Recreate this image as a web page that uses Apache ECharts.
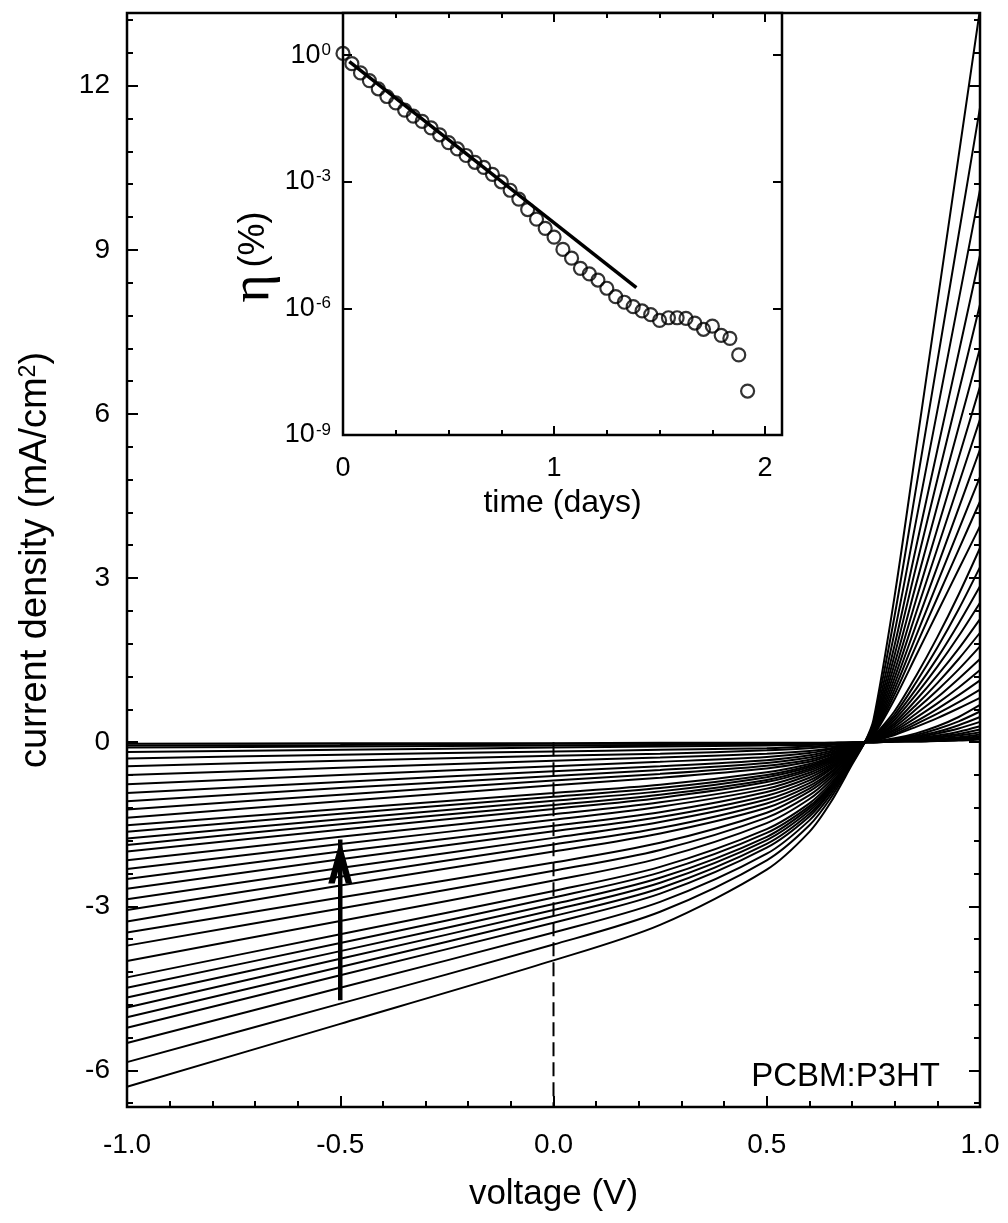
<!DOCTYPE html>
<html><head><meta charset="utf-8">
<script src="https://cdn.jsdelivr.net/npm/echarts@6/dist/echarts.min.js"></script>
<style>html,body{margin:0;padding:0;background:#fff}#c{width:1008px;height:1223px}</style>
</head><body><div id="c"></div>
<script>
// ---- Main plot: J-V curves (voltage in V, current density in mA/cm2) ----
const voltage = [-1, -0.5, 0, 0.25, 0.5, 0.6, 0.65, 0.7, 0.73, 0.75, 0.8, 0.85, 0.9, 0.95, 1.0];
const jvCurves = [
  [-6.30,-5.15,-3.99,-3.34,-2.33,-1.64,-1.10,-0.41,0, 0.40,2.68,5.36,8.04,10.72,13.40],
  [-5.85,-4.78,-3.70,-3.10,-2.16,-1.52,-1.02,-0.38,0, 0.35,2.32,4.64,6.96,9.28,11.60],
  [-5.50,-4.49,-3.48,-2.92,-2.04,-1.43,-0.96,-0.36,0, 0.30,2.02,4.04,6.06,8.08,10.10],
  [-5.22,-4.26,-3.30,-2.77,-1.93,-1.36,-0.91,-0.34,0, 0.27,1.78,3.56,5.34,7.12,8.90],
  [-5.03,-4.11,-3.18,-2.67,-1.86,-1.31,-0.88,-0.33,0, 0.24,1.60,3.20,4.80,6.40,8.00],
  [-4.85,-3.96,-3.07,-2.57,-1.79,-1.26,-0.85,-0.32,0, 0.22,1.44,2.88,4.32,5.76,7.20],
  [-4.67,-3.82,-2.96,-2.48,-1.73,-1.21,-0.82,-0.30,0, 0.20,1.30,2.60,3.90,5.20,6.50],
  [-4.49,-3.67,-2.84,-2.38,-1.66,-1.17,-0.79,-0.29,0, 0.18,1.18,2.36,3.54,4.72,5.90],
  [-4.30,-3.51,-2.72,-2.28,-1.59,-1.12,-0.75,-0.28,0, 0.16,1.07,2.14,3.21,4.28,5.35],
  [-4.00,-3.27,-2.53,-2.12,-1.48,-1.04,-0.70,-0.26,0, 0.15,0.97,1.94,2.91,3.88,4.85],
  [-3.72,-3.04,-2.35,-1.97,-1.38,-0.97,-0.65,-0.24,0, 0.13,0.88,1.76,2.64,3.52,4.40],
  [-3.48,-2.84,-2.20,-1.84,-1.29,-0.90,-0.61,-0.23,0, 0.12,0.79,1.58,2.37,3.16,3.95],
  [-3.28,-2.62,-2.00,-1.67,-1.20,-0.85,-0.57,-0.21,0, 0.11,0.57,1.21,1.92,2.70,3.55],
  [-3.07,-2.46,-1.87,-1.57,-1.12,-0.80,-0.54,-0.20,0, 0.10,0.51,1.09,1.73,2.43,3.20],
  [-2.87,-2.30,-1.75,-1.46,-1.05,-0.75,-0.50,-0.19,0, 0.09,0.46,0.97,1.54,2.17,2.85],
  [-2.68,-2.14,-1.63,-1.37,-0.98,-0.70,-0.47,-0.17,0, 0.08,0.41,0.87,1.38,1.94,2.55],
  [-2.50,-2.00,-1.53,-1.28,-0.91,-0.65,-0.44,-0.16,0, 0.07,0.36,0.77,1.22,1.71,2.25],
  [-2.32,-1.86,-1.42,-1.18,-0.85,-0.60,-0.41,-0.15,0, 0.06,0.32,0.68,1.08,1.52,2.00],
  [-2.16,-1.73,-1.32,-1.10,-0.79,-0.56,-0.38,-0.14,0, 0.05,0.28,0.60,0.95,1.33,1.75],
  [-2.00,-1.60,-1.22,-1.02,-0.73,-0.52,-0.35,-0.13,0, 0.05,0.24,0.52,0.82,1.16,1.52],
  [-1.88,-1.50,-1.15,-0.96,-0.69,-0.49,-0.33,-0.12,0, 0.04,0.21,0.45,0.71,1.00,1.32],
  [-1.76,-1.41,-1.07,-0.90,-0.64,-0.46,-0.31,-0.11,0, 0.03,0.18,0.38,0.61,0.86,1.13],
  [-1.64,-1.31,-1.00,-0.84,-0.60,-0.43,-0.29,-0.11,0, 0.03,0.15,0.33,0.52,0.73,0.96],
  [-1.52,-1.22,-0.93,-0.78,-0.55,-0.40,-0.27,-0.10,0, 0.02,0.13,0.28,0.44,0.62,0.81],
  [-1.38,-1.08,-0.79,-0.65,-0.48,-0.36,-0.24,-0.09,0, 0.01,0.07,0.16,0.29,0.46,0.68],
  [-1.23,-0.96,-0.70,-0.58,-0.43,-0.32,-0.22,-0.08,0, 0.01,0.06,0.13,0.24,0.38,0.56],
  [-1.08,-0.84,-0.62,-0.51,-0.38,-0.28,-0.19,-0.07,0, 0.01,0.05,0.11,0.19,0.31,0.46],
  [-0.93,-0.73,-0.53,-0.44,-0.33,-0.24,-0.16,-0.06,0, 0.01,0.04,0.09,0.16,0.25,0.37],
  [-0.77,-0.60,-0.44,-0.36,-0.27,-0.20,-0.13,-0.05,0, 0.01,0.03,0.07,0.12,0.19,0.29],
  [-0.60,-0.47,-0.34,-0.28,-0.21,-0.16,-0.11,-0.04,0, 0.00,0.03,0.06,0.10,0.15,0.23],
  [-0.44,-0.34,-0.25,-0.21,-0.15,-0.11,-0.08,-0.03,0, 0.00,0.02,0.04,0.08,0.12,0.18],
  [-0.30,-0.23,-0.17,-0.14,-0.11,-0.08,-0.05,-0.02,0, 0.00,0.02,0.03,0.06,0.09,0.14],
  [-0.18,-0.14,-0.10,-0.08,-0.06,-0.05,-0.03,-0.01,0, 0.00,0.01,0.03,0.05,0.07,0.11],
  [-0.10,-0.08,-0.06,-0.05,-0.04,-0.03,-0.02,-0.01,0, 0.00,0.01,0.02,0.03,0.05,0.08],
  [-0.06,-0.05,-0.03,-0.03,-0.02,-0.02,-0.01,0.00,0, 0.00,0.01,0.01,0.03,0.04,0.06],
  [-0.03,-0.02,-0.02,-0.01,-0.01,-0.01,-0.01,0.00,0, 0.00,0.01,0.01,0.02,0.03,0.05]
];
const zeroBiasLine = [[0, 0], [0, -6.67]];
const agingArrow = [[-0.5, -4.72], [-0.5, -1.78]];
const yMajorTicks = [-6, -3, 0, 3, 6, 9, 12];
const yMinorTicks = [-6.6, -5.4, -4.8, -4.2, -3.6, -2.4, -1.8, -1.2, -0.6, 0.6, 1.2, 1.8, 2.4, 3.6, 4.2, 4.8, 5.4, 6.6, 7.2, 7.8, 8.4, 9.6, 10.2, 10.8, 11.4, 12.6, 13.2];

// ---- Inset: efficiency vs time ----
const days = [0.000,0.042,0.083,0.125,0.167,0.208,0.250,0.292,0.333,0.375,0.417,0.458,0.500,0.542,0.583,0.625,0.667,0.708,0.750,0.792,0.833,0.875,0.917,0.958,1.000,1.042,1.083,1.125,1.167,1.208,1.250,1.292,1.333,1.375,1.417,1.458,1.500,1.542,1.583,1.625,1.667,1.708,1.750,1.792,1.833,1.875,1.917];
const efficiency = [1.1,0.63,0.38,0.25,0.16,1.05e-1,7.4e-2,5.0e-2,3.6e-2,2.7e-2,1.9e-2,1.3e-2,8.5e-3,6.0e-3,4.2e-3,2.9e-3,2.2e-3,1.5e-3,1.0e-3,6.3e-4,3.9e-4,2.2e-4,1.3e-4,7.9e-5,4.9e-5,2.5e-5,1.55e-5,8.9e-6,6.6e-6,4.7e-6,3.0e-6,1.9e-6,1.4e-6,1.1e-6,8.7e-7,7.1e-7,5.2e-7,6.0e-7,6.0e-7,5.8e-7,4.5e-7,3.2e-7,3.8e-7,2.3e-7,1.95e-7,7.9e-8,1.1e-8];
const fitDays = [0.03, 1.39];
const fitEfficiency = [0.7, 3.1e-6];
const insetTimeMajor = [0, 1, 2];
const insetTimeMinor = [0.25, 0.5, 0.75, 1.25, 1.5, 1.75];
const insetEtaTicks = [1e-9, 1e-6, 1e-3, 1];

const FONT = 'Liberation Sans, Arial, sans-serif';
const BLACK = '#000';

const chart = echarts.init(document.getElementById('c'), null, {renderer: 'canvas'});

const noLine = {show: false, onZero: false};
function tickAxis(extra) {
  return Object.assign({
    axisLine: noLine,
    splitLine: {show: false},
    axisLabel: {show: false},
    axisTick: {show: true, inside: true, length: 10, lineStyle: {color: BLACK, width: 2}}
  }, extra);
}

const jvSeries = jvCurves.map((row, idx) => ({
  type: 'line',
  name: 'curve' + idx,
  xAxisIndex: 0, yAxisIndex: 0,
  data: row.map((j, i) => [voltage[i], j]),
  showSymbol: false,
  symbol: 'none',
  smooth: 0.3,
  lineStyle: {color: BLACK, width: 2},
  silent: true,
  z: 2
}));

const option = {
  backgroundColor: '#fff',
  animation: false,
  title: {
    text: 'PCBM:P3HT', right: 63, top: 1055,
    textStyle: {fontFamily: FONT, fontSize: 33, fontWeight: 'normal', color: BLACK}
  },
  grid: [
    {left: 127, right: 28, top: 13, bottom: 116, show: true, borderColor: BLACK, borderWidth: 2.5, backgroundColor: 'transparent'},
    {left: 343, right: 226, top: 13, bottom: 788, show: true, borderColor: BLACK, borderWidth: 2.5, backgroundColor: '#fff', z: 5}
  ],
  xAxis: [
    {
      gridIndex: 0, type: 'value', position: 'bottom', min: -1, max: 1, interval: 0.5,
      axisLine: noLine, splitLine: {show: false},
      axisTick: {show: true, inside: true, length: 11, lineStyle: {color: BLACK, width: 2}},
      minorTick: {show: true, splitNumber: 5, length: 6, lineStyle: {color: BLACK, width: 2}},
      axisLabel: {show: true, margin: 24, fontFamily: FONT, fontSize: 28, color: BLACK,
        showMinLabel: true, showMaxLabel: true, formatter: v => v.toFixed(1)},
      name: 'voltage (V)', nameLocation: 'middle', nameGap: 70,
      nameTextStyle: {fontFamily: FONT, fontSize: 35, color: BLACK}
    },
    {
      gridIndex: 1, type: 'value', position: 'bottom', min: 0, max: 2.08,
      axisLine: noLine, splitLine: {show: false},
      axisTick: {show: true, inside: true, length: 9, customValues: insetTimeMajor, lineStyle: {color: BLACK, width: 2}},
      axisLabel: {show: true, margin: 20, fontFamily: FONT, fontSize: 27, color: BLACK, customValues: insetTimeMajor},
      name: 'time (days)', nameLocation: 'middle', nameGap: 52,
      nameTextStyle: {fontFamily: FONT, fontSize: 32, color: BLACK}, z: 6
    },
    tickAxis({gridIndex: 1, type: 'value', position: 'bottom', min: 0, max: 2.08, z: 6,
      axisTick: {show: true, inside: true, length: 5, customValues: insetTimeMinor, lineStyle: {color: BLACK, width: 2}}}),
    tickAxis({gridIndex: 1, type: 'value', position: 'top', min: 0, max: 2.08, z: 6,
      axisTick: {show: true, inside: true, length: 9, customValues: insetTimeMajor, lineStyle: {color: BLACK, width: 2}}}),
    tickAxis({gridIndex: 1, type: 'value', position: 'top', min: 0, max: 2.08, z: 6,
      axisTick: {show: true, inside: true, length: 5, customValues: insetTimeMinor, lineStyle: {color: BLACK, width: 2}}})
  ],
  yAxis: [
    {
      gridIndex: 0, type: 'value', position: 'left', min: -6.67, max: 13.33,
      axisLine: noLine, splitLine: {show: false},
      axisTick: {show: true, inside: true, length: 11, customValues: yMajorTicks, lineStyle: {color: BLACK, width: 2}},
      axisLabel: {show: true, margin: 17, fontFamily: FONT, fontSize: 28, color: BLACK, customValues: yMajorTicks},
      name: 'current density (mA/cm{sup|2})', nameLocation: 'middle', nameGap: 72,
      nameTextStyle: {fontFamily: FONT, fontSize: 38, color: BLACK,
        rich: {sup: {fontFamily: FONT, fontSize: 23, color: BLACK, verticalAlign: 'top', padding: [0, 0, 15, 0]}}}
    },
    tickAxis({gridIndex: 0, type: 'value', position: 'left', min: -6.67, max: 13.33,
      axisTick: {show: true, inside: true, length: 6, customValues: yMinorTicks, lineStyle: {color: BLACK, width: 2}}}),
    tickAxis({gridIndex: 0, type: 'value', position: 'right', min: -6.67, max: 13.33,
      axisTick: {show: true, inside: true, length: 11, customValues: yMajorTicks, lineStyle: {color: BLACK, width: 2}}}),
    tickAxis({gridIndex: 0, type: 'value', position: 'right', min: -6.67, max: 13.33,
      axisTick: {show: true, inside: true, length: 6, customValues: yMinorTicks, lineStyle: {color: BLACK, width: 2}}}),
    {
      gridIndex: 1, type: 'log', logBase: 10, position: 'left', min: 1e-9, max: 10,
      axisLine: noLine, splitLine: {show: false}, minorTick: {show: false},
      axisTick: {show: true, inside: true, length: 9, customValues: insetEtaTicks, lineStyle: {color: BLACK, width: 2}},
      axisLabel: {show: true, margin: 12, fontFamily: FONT, fontSize: 27, color: BLACK, customValues: insetEtaTicks,
        formatter: v => '10{sup|' + Math.round(Math.log10(v)) + '}',
        rich: {sup: {fontFamily: FONT, fontSize: 17, color: BLACK, verticalAlign: 'top', padding: [0, 0, 10, 1]}}},
      name: '{eta|η}  {pct|(%)}', nameLocation: 'middle', nameGap: 58,
      nameTextStyle: {
        rich: {
          eta: {fontFamily: 'Liberation Serif, DejaVu Serif, serif', fontSize: 54, color: BLACK},
          pct: {fontFamily: FONT, fontSize: 36, color: BLACK, padding: [0, 66, 0, 0]}
        }
      }, z: 6
    },
    {
      gridIndex: 1, type: 'log', logBase: 10, position: 'right', min: 1e-9, max: 10,
      axisLine: noLine, splitLine: {show: false}, axisLabel: {show: false}, minorTick: {show: false},
      axisTick: {show: true, inside: true, length: 9, customValues: insetEtaTicks, lineStyle: {color: BLACK, width: 2}}, z: 6
    }
  ],
  series: jvSeries.concat([
    {
      type: 'line', name: 'V=0', xAxisIndex: 0, yAxisIndex: 0,
      data: zeroBiasLine, symbol: 'none', silent: true,
      lineStyle: {color: BLACK, width: 2, type: [14, 6]}, z: 3
    },
    {
      type: 'line', name: 'arrow', xAxisIndex: 0, yAxisIndex: 0,
      data: agingArrow, silent: true,
      showSymbol: true,
      symbol: (v, p) => p.dataIndex === 1 ? 'path://M5,0 L10,20 L7.3,20 L5,11 L2.7,20 L0,20 Z' : 'none',
      symbolSize: [24, 44], symbolOffset: [0, '50%'],
      itemStyle: {color: BLACK},
      lineStyle: {color: BLACK, width: 4.5}, z: 4
    },
    {
      type: 'line', name: 'fit', xAxisIndex: 1, yAxisIndex: 4,
      data: fitDays.map((t, i) => [t, fitEfficiency[i]]),
      symbol: 'none', silent: true,
      lineStyle: {color: BLACK, width: 3.5}, z: 7
    },
    {
      type: 'scatter', name: 'efficiency', xAxisIndex: 1, yAxisIndex: 4,
      data: days.map((t, i) => [t, efficiency[i]]),
      symbol: 'circle', symbolSize: 13, silent: true,
      itemStyle: {color: 'rgba(0,0,0,0)', borderColor: BLACK, borderWidth: 2.2}, z: 8
    }
  ])
};
chart.setOption(option);
</script></body></html>
